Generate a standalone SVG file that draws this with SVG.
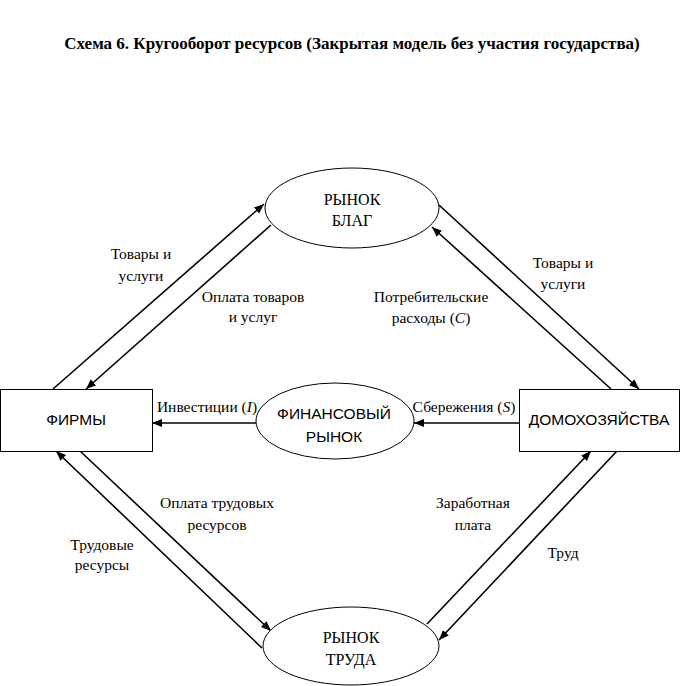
<svg xmlns="http://www.w3.org/2000/svg" width="680" height="686" viewBox="0 0 680 686">
<defs>
<marker id="ah" viewBox="0 0 10 10" refX="10" refY="5" markerWidth="10" markerHeight="10" markerUnits="userSpaceOnUse" orient="auto">
<path d="M0,1 L10,5 L0,9 Z" fill="#000"/>
</marker>
</defs>
<style>
.shape{fill:#fff;stroke:#000;stroke-width:1}
.sans{font-family:"Liberation Sans",Arial,sans-serif;font-size:15.5px;fill:#000;text-anchor:middle}
.serif{font-family:"Liberation Serif","Times New Roman",serif;font-size:16px;fill:#000;text-anchor:middle}
.lbl{font-family:"Liberation Serif","Times New Roman",serif;font-size:15.5px;fill:#000;text-anchor:middle}
.title{font-family:"Liberation Serif","Times New Roman",serif;font-size:17px;font-weight:bold;fill:#000;text-anchor:middle}
.arr{stroke:#000;stroke-width:1.6;fill:none;marker-end:url(#ah)}
</style>
<rect width="680" height="686" fill="#fff"/>
<text class="title" x="352" y="49">Схема 6. Кругооборот ресурсов (Закрытая модель без участия государства)</text>

<g id="connectors">
<line class="arr" x1="53" y1="389" x2="264" y2="204"/>
<line class="arr" x1="271" y1="225" x2="86" y2="389"/>
<line class="arr" x1="439" y1="205" x2="639" y2="389"/>
<line class="arr" x1="611" y1="389" x2="432" y2="227"/>
<line class="arr" x1="256" y1="423" x2="152" y2="423"/>
<line class="arr" x1="519" y1="423" x2="414" y2="423"/>
<line class="arr" x1="262" y1="648" x2="56" y2="451"/>
<line class="arr" x1="80" y1="451" x2="271" y2="631"/>
<line class="arr" x1="427" y1="624" x2="591" y2="451"/>
<line class="arr" x1="617" y1="451" x2="439" y2="640"/>
</g>

<g id="labels">
<text class="lbl" x="141" y="259">Товары и</text>
<text class="lbl" x="141" y="281">услуги</text>
<text class="lbl" x="253" y="302">Оплата товаров</text>
<text class="lbl" x="253" y="322">и услуг</text>
<text class="lbl" x="563" y="268">Товары и</text>
<text class="lbl" x="563" y="289">услуги</text>
<text class="lbl" x="431" y="302">Потребительские</text>
<text class="lbl" x="431" y="323">расходы (<tspan font-style="italic">C</tspan>)</text>
<text class="lbl" x="207" y="412">Инвестиции (<tspan font-style="italic">I</tspan>)</text>
<text class="lbl" x="464" y="412">Сбережения (<tspan font-style="italic">S</tspan>)</text>
<text class="lbl" x="217" y="508">Оплата трудовых</text>
<text class="lbl" x="217" y="530">ресурсов</text>
<text class="lbl" x="102" y="550">Трудовые</text>
<text class="lbl" x="102" y="570">ресурсы</text>
<text class="lbl" x="473" y="508">Заработная</text>
<text class="lbl" x="473" y="530">плата</text>
<text class="lbl" x="563" y="558">Труд</text>
</g>

<g id="goods-market">
<ellipse class="shape" cx="352" cy="208" rx="87" ry="40"/>
<text class="serif" x="352" y="205">РЫНОК</text>
<text class="serif" x="352" y="226">БЛАГ</text>
</g>

<g id="firms">
<rect class="shape" x="0.5" y="389.5" width="152" height="62"/>
<text class="sans" x="76" y="425">ФИРМЫ</text>
</g>

<g id="households">
<rect class="shape" x="519.5" y="389.5" width="160" height="62"/>
<text class="sans" x="599" y="425">ДОМОХОЗЯЙСТВА</text>
</g>

<g id="financial-market">
<ellipse class="shape" cx="335" cy="421" rx="79" ry="38"/>
<text class="sans" x="334" y="419">ФИНАНСОВЫЙ</text>
<text class="sans" x="334" y="442">РЫНОК</text>
</g>

<g id="labour-market">
<ellipse class="shape" cx="351" cy="646" rx="88" ry="39"/>
<text class="serif" x="351" y="643">РЫНОК</text>
<text class="serif" x="351" y="665">ТРУДА</text>
</g>
</svg>
